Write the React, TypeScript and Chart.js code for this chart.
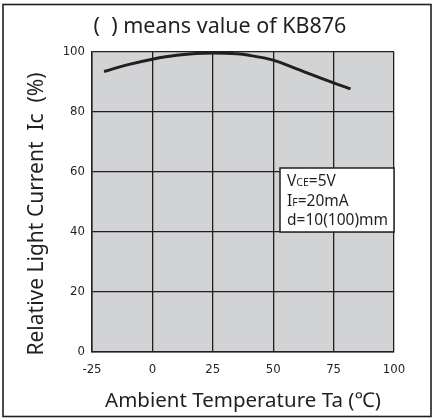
import React, { useEffect, useRef } from "react";
import { Chart, registerables } from "chart.js";

Chart.register(...registerables);

const temperatures = [-20, -10, 0, 10, 25, 35, 40, 50, 60, 75, 82];
const relativeCurrent = [93.5, 95.8, 97.6, 98.9, 99.7, 99.4, 98.9, 97.3, 94.3, 89.7, 87.7];
const xRange = [-25, 100];
const yRange = [0, 100];
const chartTitle = "(  ) means value of KB876";
const xTitle = "Ambient Temperature Ta (\u2103)";
const yTitle = "Relative Light Current  Ic  (%)";
const noteLines = [
  { main: "V", sub: "CE", rest: "=5V" },
  { main: "I", sub: "F", rest: "=20mA" },
  { main: "d=10(100)mm", sub: "", rest: "" },
];

const INK = "#231f20";
const TITLE_FONT = "'Noto Sans', 'Open Sans', sans-serif";
const TICK_FONT = "'DejaVu Sans Condensed', 'Liberation Sans Narrow', 'Noto Sans', sans-serif";

const decorPlugin = {
  id: "decor",
  beforeDraw(chart: any) {
    const { ctx, chartArea, width, height } = chart;
    ctx.save();
    ctx.fillStyle = "#ffffff";
    ctx.fillRect(0, 0, width, height);
    ctx.strokeStyle = INK;
    ctx.lineWidth = 1.6;
    ctx.strokeRect(3, 4.5, 428, 412);
    ctx.fillStyle = "#d2d3d5";
    ctx.fillRect(chartArea.left, chartArea.top, chartArea.right - chartArea.left, chartArea.bottom - chartArea.top);
    ctx.restore();
  },
  afterDraw(chart: any) {
    const { ctx, chartArea } = chart;
    // main title
    ctx.save();
    ctx.fillStyle = INK;
    ctx.font = `21.5px ${TITLE_FONT}`;
    ctx.textAlign = "center";
    ctx.textBaseline = "middle";
    ctx.fillText(chartTitle, 220, 27);
    ctx.restore();

    // y title
    ctx.save();
    ctx.fillStyle = INK;
    ctx.font = `21px ${TITLE_FONT}`;
    ctx.textAlign = "center";
    ctx.textBaseline = "middle";
    ctx.translate(37, 214);
    ctx.rotate(-Math.PI / 2);
    ctx.fillText(yTitle, 0, 0);
    ctx.restore();

    // note box
    ctx.save();
    const bx = 280, by = 168, bw = chartArea.right - 280, bh = 64;
    ctx.fillStyle = "#ffffff";
    ctx.fillRect(bx, by, bw, bh);
    ctx.strokeStyle = INK;
    ctx.lineWidth = 1.5;
    ctx.strokeRect(bx, by, bw, bh);
    ctx.fillStyle = INK;
    ctx.textBaseline = "alphabetic";
    ctx.textAlign = "left";
    const baselines = [186, 206, 225];
    noteLines.forEach((ln, i) => {
      let x = 287;
      ctx.font = `15.5px ${TITLE_FONT}`;
      ctx.fillText(ln.main, x, baselines[i]);
      x += ctx.measureText(ln.main).width;
      if (ln.sub) {
        ctx.font = `10.5px ${TITLE_FONT}`;
        ctx.fillText(ln.sub, x, baselines[i]);
        x += ctx.measureText(ln.sub).width;
      }
      if (ln.rest) {
        ctx.font = `15.5px ${TITLE_FONT}`;
        ctx.fillText(ln.rest, x, baselines[i]);
      }
    });
    ctx.restore();
  },
};

export default function App() {
  const canvasRef = useRef<HTMLCanvasElement | null>(null);

  useEffect(() => {
    if (!canvasRef.current) return;
    const chart = new Chart(canvasRef.current, {
      type: "line",
      data: {
        datasets: [
          {
            data: temperatures.map((t, i) => ({ x: t, y: relativeCurrent[i] })),
            borderColor: INK,
            borderWidth: 3,
            pointRadius: 0,
            fill: false,
            cubicInterpolationMode: "monotone",
          },
        ],
      },
      options: {
        animation: false,
        responsive: false,
        maintainAspectRatio: false,
        layout: { padding: { left: 0, right: 39, top: 52, bottom: 0 } },
        plugins: {
          legend: { display: false },
          tooltip: { enabled: false },
          title: { display: false },
        },
        scales: {
          x: {
            type: "linear",
            min: xRange[0],
            max: xRange[1],
            afterFit(scale: any) {
              scale.height = 67;
            },
            ticks: {
              stepSize: 25,
              color: INK,
              padding: 10,
              font: { family: TICK_FONT, size: 13 },
            },
            grid: { color: INK, lineWidth: 1.3, drawTicks: false },
            border: { color: INK, width: 1.5 },
            title: {
              display: true,
              text: xTitle,
              color: INK,
              font: { family: TITLE_FONT, size: 20.5, weight: "normal", lineHeight: 1.2 },
              padding: { top: 0, bottom: 6 },
            },
          },
          y: {
            type: "linear",
            min: yRange[0],
            max: yRange[1],
            afterFit(scale: any) {
              scale.width = 92;
            },
            ticks: {
              stepSize: 20,
              color: INK,
              padding: 7,
              font: { family: TICK_FONT, size: 13 },
            },
            grid: { color: INK, lineWidth: 1.3, drawTicks: false },
            border: { color: INK, width: 1.5 },
          },
        },
      } as any,
      plugins: [decorPlugin],
    });
    return () => chart.destroy();
  }, []);

  return (
    <div style={{ position: "absolute", left: 0, top: 0, width: 433, height: 419 }}>
      <canvas ref={canvasRef} width={433} height={419} style={{ display: "block" }} />
    </div>
  );
}
